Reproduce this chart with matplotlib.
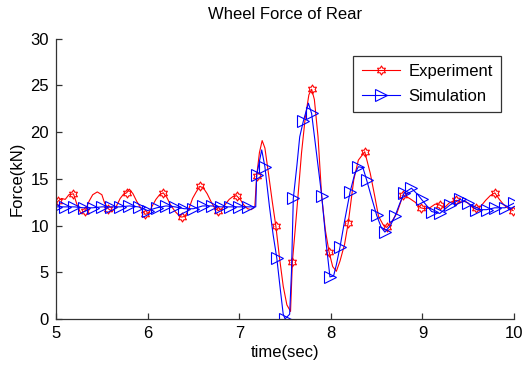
import numpy as np
import matplotlib
matplotlib.use("Agg")
import matplotlib.pyplot as plt
from matplotlib.path import Path

plt.rcParams["font.family"] = ["Liberation Sans", "DejaVu Sans"]

# ── data ──────────────────────────────────────────────────────────────────────
exp_t = [5.00, 5.02, 5.06, 5.10, 5.14, 5.19, 5.23, 5.27, 5.32, 5.36, 5.40, 5.45,
         5.50, 5.53, 5.57, 5.61, 5.65, 5.70, 5.74, 5.77, 5.80, 5.84, 5.88, 5.93,
         5.97, 6.01, 6.05, 6.09, 6.13, 6.17, 6.21, 6.25, 6.30, 6.34, 6.37, 6.41,
         6.45, 6.49, 6.53, 6.57, 6.61, 6.65, 6.69, 6.73, 6.77, 6.81, 6.85, 6.89,
         6.93, 6.97, 7.01, 7.05, 7.09, 7.13, 7.17, 7.19, 7.22, 7.25, 7.28, 7.32,
         7.36, 7.40, 7.44, 7.48, 7.52, 7.56, 7.58, 7.61, 7.64, 7.68, 7.72, 7.76,
         7.79, 7.82, 7.86, 7.90, 7.94, 7.98, 8.02, 8.06, 8.10, 8.15, 8.19, 8.25,
         8.30, 8.37, 8.43, 8.48, 8.52, 8.57, 8.61, 8.67, 8.72, 8.79, 8.86, 8.92,
         8.98, 9.03, 9.08, 9.14, 9.19, 9.24, 9.29, 9.33, 9.37, 9.42, 9.47, 9.52,
         9.56, 9.59, 9.64, 9.69, 9.74, 9.79, 9.84, 9.89, 9.94, 9.99]
exp_f = [12.3, 12.6, 12.9, 12.8, 13.3, 13.4, 12.2, 11.3, 11.6, 12.6, 13.3, 13.6,
         13.3, 12.4, 11.8, 11.5, 11.9, 12.9, 13.4, 13.5, 13.9, 13.4, 12.6, 11.8,
         11.2, 11.3, 12.1, 12.8, 13.3, 13.5, 13.0, 12.2, 11.5, 11.1, 10.9, 11.0,
         11.8, 12.9, 13.6, 14.2, 14.0, 13.4, 12.6, 11.9, 11.6, 11.8, 12.3, 12.8,
         13.1, 13.2, 12.8, 12.2, 11.8, 11.7, 12.0, 15.3, 17.8, 19.1, 18.3, 15.5,
         12.6, 9.9, 6.5, 3.5, 1.5, 0.8, 6.1, 9.5, 13.0, 17.8, 21.5, 24.0,
         24.6, 23.5, 19.5, 13.1, 9.5, 7.2, 5.6, 5.1, 6.2, 8.0, 10.3, 14.9,
         17.0, 17.9, 15.6, 13.1, 11.0, 10.1, 9.8, 10.5, 11.3, 13.3, 12.9, 12.5,
         11.9, 11.8, 11.9, 12.3, 12.2, 11.9, 12.4, 12.6, 12.7, 12.5, 12.6, 12.2,
         11.8, 11.9, 12.1, 12.7, 13.2, 13.5, 12.8, 12.2, 11.8, 11.6]
exp_marks = [5.02, 5.19, 5.32, 5.57, 5.77, 5.97, 6.17, 6.37, 6.57, 6.77, 6.97,
             7.19, 7.40, 7.58, 7.79, 7.98, 8.19, 8.37, 8.61, 8.79, 8.98, 9.19,
             9.37, 9.59, 9.79, 9.99]

sim_t = [5.00, 5.10, 5.20, 5.30, 5.40, 5.50, 5.60, 5.70, 5.80, 5.90, 6.00, 6.10,
         6.20, 6.30, 6.40, 6.50, 6.60, 6.70, 6.80, 6.90, 7.00, 7.10, 7.18, 7.19,
         7.245, 7.28, 7.33, 7.37, 7.41, 7.45, 7.48, 7.50, 7.55, 7.57, 7.59, 7.63,
         7.66, 7.70, 7.755, 7.79, 7.84, 7.90, 7.95, 7.99, 8.03, 8.06, 8.10, 8.15,
         8.21, 8.26, 8.30, 8.35, 8.39, 8.45, 8.50, 8.55, 8.59, 8.65, 8.70, 8.75,
         8.80, 8.88, 8.95, 8.99, 9.10, 9.19, 9.30, 9.41, 9.50, 9.59, 9.70, 9.79,
         9.90, 10.00]
sim_f = [12.0, 12.0, 12.0, 11.9, 11.9, 12.0, 12.0, 12.0, 12.1, 12.0, 11.6, 11.9,
         12.1, 12.0, 11.8, 11.8, 12.1, 12.1, 12.0, 12.0, 12.0, 12.0, 12.0, 15.4,
         18.1, 16.3, 12.0, 9.0, 6.5, 3.0, 0.5, 0.0, 0.5, 5.0, 12.9, 16.5,
         19.5, 21.2, 23.1, 22.0, 18.0, 13.2, 8.0, 4.5, 4.6, 5.8, 7.7, 10.5,
         13.6, 15.5, 16.3, 16.2, 14.9, 12.8, 11.1, 9.8, 9.3, 10.0, 11.0, 12.3,
         13.5, 14.0, 13.3, 12.8, 11.5, 11.3, 12.2, 12.8, 12.4, 11.7, 11.7, 11.9,
         11.9, 12.4]
sim_marks = [5.00, 5.10, 5.20, 5.30, 5.40, 5.50, 5.60, 5.70, 5.80, 5.90, 6.00,
             6.10, 6.20, 6.30, 6.40, 6.50, 6.60, 6.70, 6.80, 6.90, 7.00, 7.10,
             7.19, 7.28, 7.41, 7.50, 7.59, 7.70, 7.79, 7.90, 7.99, 8.10, 8.21,
             8.30, 8.39, 8.50, 8.59, 8.70, 8.80, 8.88, 8.99, 9.10, 9.19, 9.30,
             9.41, 9.50, 9.59, 9.70, 9.79, 9.90, 10.00]

# 6-pointed star (hexagram) like MATLAB's 'h' marker
hexagram = Path.unit_regular_star(6, innerCircle=0.577)


def mark_idx(times, marks):
    return [i for i, t in enumerate(times) if t in set(marks)]


fig = plt.figure(figsize=(5.24, 3.73), dpi=100)
ax = fig.add_axes([0.107, 0.145, 0.874, 0.751])

ax.plot(exp_t, exp_f, color="red", linewidth=0.8, marker=hexagram,
        markersize=6.5, markerfacecolor="none", markeredgewidth=0.8,
        markevery=mark_idx(exp_t, exp_marks), label="Experiment")
ax.plot(sim_t, sim_f, color="blue", linewidth=0.8, marker=">",
        markersize=8, markerfacecolor="none", markeredgewidth=0.8,
        markevery=mark_idx(sim_t, sim_marks), label="Simulation")

ax.set_xlim(5, 10)
ax.set_ylim(0, 30)
ax.set_xticks([5, 6, 7, 8, 9, 10])
ax.set_yticks([0, 5, 10, 15, 20, 25, 30])

for side in ("top", "right"):
    ax.spines[side].set_visible(False)
for side in ("left", "bottom"):
    ax.spines[side].set_color("#333333")
    ax.spines[side].set_linewidth(0.9)
ax.tick_params(direction="in", length=4, width=0.9, color="#333333",
               labelsize=12, pad=5)

ax.set_title("Wheel Force of Rear", fontsize=12, pad=14)
ax.set_xlabel("time(sec)", fontsize=12, labelpad=3)
ax.set_ylabel("Force(kN)", fontsize=12, labelpad=4)

leg = ax.legend(loc="upper right", fontsize=12, frameon=True, fancybox=False,
                edgecolor="black", handlelength=2.3, handletextpad=0.5,
                borderpad=0.5, labelspacing=0.6, bbox_to_anchor=(0.99, 0.97))
leg.get_frame().set_linewidth(0.9)

fig.savefig("out.png", dpi=100)
